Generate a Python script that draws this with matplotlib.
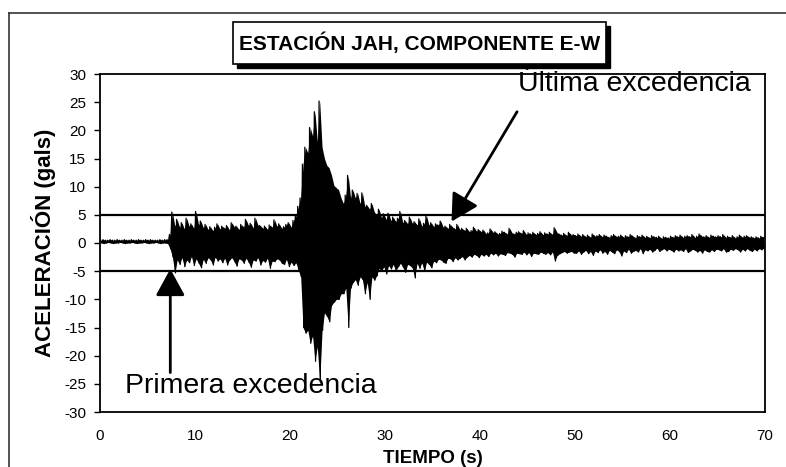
import numpy as np
import matplotlib
matplotlib.use("Agg")
import matplotlib.pyplot as plt
from matplotlib.lines import Line2D
from matplotlib.patches import Rectangle

plt.rcParams['font.family'] = ['Liberation Sans', 'DejaVu Sans']
plt.rcParams['axes.unicode_minus'] = False

# Record in 0.25 s windows: peak positive / negative acceleration (gals), one row per second
dt = 0.25
upper_env = [
    0.5, 0.6, 0.5, 0.5,  0.6, 0.5, 0.5, 0.6,  0.5, 0.5, 0.6, 0.5,  0.5, 0.6, 0.5, 0.5,
    0.6, 0.5, 0.5, 0.6,  0.5, 0.6, 0.5, 0.5,  0.5, 0.6, 0.5, 0.6,
    0.6, 1.5, 5.5, 3.0,
    4.2, 2.8, 3.6, 2.5,
    4.4, 3.0, 3.4, 2.6,
    5.6, 3.2, 3.9, 2.7,
    3.3, 2.4, 2.9, 2.2,
    2.8, 3.4, 2.5, 3.0,
    2.6, 3.1, 2.3, 3.6,
    2.9, 3.0, 2.4, 3.3,
    2.8, 4.2, 3.1, 3.5,
    2.7, 4.4, 3.2, 3.1,
    2.6, 3.0, 2.4, 3.2,
    2.8, 4.1, 3.0, 3.4,
    2.6, 2.9, 3.3, 3.6,
    2.8, 4.0, 4.8, 6.5,
    8.0, 14.0, 17.0, 16.0,
    20.5, 19.0, 23.3, 18.0,
    25.2, 17.0, 15.0, 13.8,
    13.3, 12.0, 10.2, 9.8,
    9.4, 8.0, 7.0, 8.5,
    12.0, 8.0, 9.4, 8.0,
    8.8, 7.0, 8.9, 6.5,
    6.7, 6.0, 7.0, 5.5,
    5.0, 6.0, 4.5, 5.2,
    4.2, 5.3, 4.0, 4.6,
    3.8, 4.4, 5.6, 3.6,
    4.0, 3.4, 4.6, 3.5,
    3.8, 3.2, 4.3, 3.0,
    3.5, 4.8, 3.2, 3.6,
    2.9, 3.4, 3.2, 3.9,
    2.8, 3.0, 2.6, 3.3,
    2.8, 2.5, 3.3, 2.4,
    2.6, 2.2, 2.6, 2.0,
    2.2, 2.8, 2.1, 2.4,
    2.0, 2.3, 1.7, 1.8,
    2.5, 1.9, 2.0, 1.6,
    1.7, 2.1, 1.9, 1.6,
    2.6, 1.8, 1.6, 1.9,
    2.0, 1.7, 2.2, 1.5,
    1.8, 1.6, 1.9, 1.5,
    1.7, 2.0, 1.5, 1.8,
    1.6, 1.9, 1.5, 2.7,
    1.8, 1.6, 1.4, 1.7,
    1.3, 1.9, 1.4, 1.5,
    1.3, 1.6, 1.2, 1.5,
    1.1, 1.4, 1.0, 1.6,
    1.2, 1.3, 1.5, 1.1,
    1.4, 1.2, 1.0, 1.3,
    1.5, 1.1, 1.2, 1.4,
    1.0, 1.3, 1.1, 1.5,
    1.2, 0.9, 1.3, 1.1,
    1.4, 1.0, 1.2, 0.9,
    1.3, 1.1, 1.0, 1.2,
    0.8, 1.1, 1.0, 0.9,
    1.2, 1.0, 1.3, 1.1,
    1.4, 1.0, 1.2, 1.3,
    1.1, 1.5, 1.0, 1.2,
    1.6, 1.2, 1.1, 1.3,
    1.0, 1.4, 1.2, 1.1,
    1.3, 1.1, 1.5, 1.0,
    1.2, 1.0, 1.3, 0.9,
    1.1, 1.4, 1.0, 1.2,
    1.3, 1.0, 1.1, 0.9,
    1.1, 0.9, 1.2, 1.0,
]
lower_env = [
    0.0, -0.1, 0.0, 0.1,  0.0, -0.1, 0.0, 0.0,  0.1, 0.0, -0.1, 0.0,  0.0, 0.1, 0.0, -0.1,
    0.0, 0.0, 0.1, 0.0,  -0.1, 0.0, 0.0, 0.1,  0.0, -0.1, 0.0, 0.0,
    -0.1, -1.0, -2.5, -5.3,
    -3.0, -3.8, -2.6, -4.2,
    -3.0, -3.5, -2.4, -4.0,
    -2.8, -3.6, -4.4, -2.9,
    -3.6, -2.6, -3.0, -3.9,
    -2.5, -3.2, -2.8, -3.5,
    -2.7, -3.9, -3.0, -2.6,
    -3.3, -4.1, -2.8, -3.0,
    -3.6, -2.7, -3.4, -4.3,
    -3.0, -3.2, -2.6, -3.9,
    -3.1, -3.4, -2.7, -4.5,
    -3.2, -3.3, -2.8, -3.0,
    -3.6, -3.8, -2.9, -4.2,
    -3.4, -4.0, -3.5, -4.8,
    -6.0, -15.0, -16.0, -15.5,
    -17.8, -16.5, -21.0, -18.4,
    -24.7, -15.5, -12.4, -13.0,
    -14.0, -11.0, -10.5, -10.0,
    -10.0, -9.0, -9.0, -8.0,
    -15.0, -8.0, -7.0, -6.5,
    -7.5, -6.0, -6.5, -9.0,
    -7.0, -10.0, -6.0, -6.6,
    -5.8, -4.5, -5.0, -4.2,
    -5.5, -4.0, -4.6, -3.8,
    -5.0, -4.2, -3.6, -4.3,
    -5.2, -3.8, -4.0, -4.4,
    -6.2, -3.6, -4.5, -3.5,
    -5.0, -3.4, -3.8, -4.4,
    -3.2, -3.5, -2.9, -3.0,
    -3.4, -3.6, -2.7, -2.8,
    -3.3, -2.6, -3.0, -2.7,
    -2.4, -3.0, -2.5, -2.2,
    -2.5, -2.0, -2.2, -2.6,
    -2.0, -2.3, -2.0, -2.4,
    -1.8, -2.1, -1.8, -2.3,
    -1.9, -2.0, -2.2, -1.7,
    -1.8, -2.0, -2.5, -1.8,
    -1.9, -2.0, -1.6, -2.1,
    -1.7, -2.4, -1.8, -1.9,
    -2.0, -1.6, -1.8, -2.0,
    -1.7, -2.1, -1.6, -3.2,
    -2.2, -1.9, -1.7, -1.5,
    -1.8, -1.6, -1.5, -1.8,
    -1.8, -1.4, -2.0, -1.6,
    -1.3, -1.9, -1.5, -2.2,
    -1.4, -1.7, -1.2, -1.8,
    -1.5, -2.0, -1.3, -1.6,
    -1.9, -1.2, -1.5, -2.3,
    -1.4, -1.7, -1.1, -1.8,
    -1.5, -1.3, -1.6, -1.0,
    -1.9, -1.2, -1.4, -1.1,
    -1.6, -1.3, -0.9, -1.5,
    -1.2, -1.0, -1.4, -1.1,
    -1.3, -1.6, -1.1, -1.4,
    -1.2, -1.5, -1.0, -1.7,
    -1.4, -1.1, -1.3, -1.6,
    -1.3, -1.8, -1.2, -1.5,
    -1.6, -1.2, -1.5, -1.1,
    -1.2, -1.4, -1.0, -1.6,
    -1.5, -1.1, -1.3, -1.0,
    -1.2, -1.6, -1.1, -1.4,
    -1.0, -1.3, -1.5, -1.1,
    -1.4, -1.0, -1.2, -0.9,
]

threshold = 5.0
x_ticks = [0, 10, 20, 30, 40, 50, 60, 70]
y_ticks = [30, 25, 20, 15, 10, 5, 0, -5, -10, -15, -20, -25, -30]

title = "ESTACIÓN JAH, COMPONENTE E-W"
x_label = "TIEMPO (s)"
y_label = "ACELERACIÓN (gals)"
first_label = "Primera excedencia"
last_label = "Última excedencia"
first_tip = (7.4, -4.6)
first_tail = (7.4, -23.0)
last_tip = (37.0, 3.8)
last_tail = (43.9, 23.3)

upper = np.array(upper_env)
lower = np.array(lower_env)
n = min(len(upper), len(lower))
upper, lower = upper[:n], lower[:n]
t0 = np.arange(n) * dt

fig = plt.figure(figsize=(7.86, 4.67), dpi=100)
ax = fig.add_axes([100 / 786, 1 - 412 / 467, 665 / 786, 338 / 467])

# solid body of the trace
ax.fill_between(t0 + dt / 2, lower, upper, color="black", lw=0, zorder=2)
# oscillating trace between window peaks
tz = np.empty(2 * n)
yz = np.empty(2 * n)
tz[0::2] = t0 + 0.06
tz[1::2] = t0 + 0.19
yz[0::2] = upper
yz[1::2] = lower
ax.plot(tz, yz, color="black", lw=0.9, zorder=3)

# exceedance thresholds
ax.axhline(threshold, color="black", lw=1.6, zorder=4)
ax.axhline(-threshold, color="black", lw=1.6, zorder=4)

ax.set_xlim(0, 70)
ax.set_ylim(-30, 30)
ax.set_xticks(x_ticks)
ax.set_yticks(y_ticks)
ax.tick_params(axis="x", length=0, pad=12, labelsize=11)
ax.tick_params(axis="y", length=4, width=1, direction="out", pad=6, labelsize=11)
for s in ax.spines.values():
    s.set_linewidth(1.3)

ax.set_xlabel(x_label, fontsize=13.5, fontweight="bold", labelpad=5)
ax.set_ylabel(y_label, fontsize=16, fontweight="bold", labelpad=6)

arrow_kw = dict(arrowstyle="-|>,head_length=0.55,head_width=0.3", color="black",
                lw=2.0, mutation_scale=30, shrinkA=0, shrinkB=0)
ax.annotate("", xy=first_tip, xytext=first_tail, arrowprops=arrow_kw, zorder=6)
ax.annotate("", xy=last_tip, xytext=last_tail, arrowprops=arrow_kw, zorder=6)
ax.text(2.6, -25.3, first_label, fontsize=20.5, ha="left", va="center", zorder=7)
ax.text(44.0, 28.3, last_label, fontsize=20.5, ha="left", va="center", zorder=7,
        clip_on=False)

# title box with drop shadow
bx0, by0, bw, bh = 233 / 786, 1 - 64 / 467, 373 / 786, 42 / 467
fig.patches.append(Rectangle((bx0 + 4 / 786, by0 - 4 / 467), bw, bh, transform=fig.transFigure,
                             facecolor="black", edgecolor="black", zorder=1))
fig.patches.append(Rectangle((bx0, by0), bw, bh, transform=fig.transFigure,
                             facecolor="white", edgecolor="black", lw=1.2, zorder=2))
fig.text(bx0 + bw / 2, by0 + bh / 2, title, fontsize=15, fontweight="bold",
         ha="center", va="center", zorder=3)

# outer frame
fig.add_artist(Line2D([9 / 786, 1], [1 - 13 / 467, 1 - 13 / 467], transform=fig.transFigure,
                      color="#333333", lw=1.2))
fig.add_artist(Line2D([9 / 786, 9 / 786], [0, 1 - 13 / 467], transform=fig.transFigure,
                      color="#333333", lw=1.2))

fig.savefig("out.png", dpi=100)
